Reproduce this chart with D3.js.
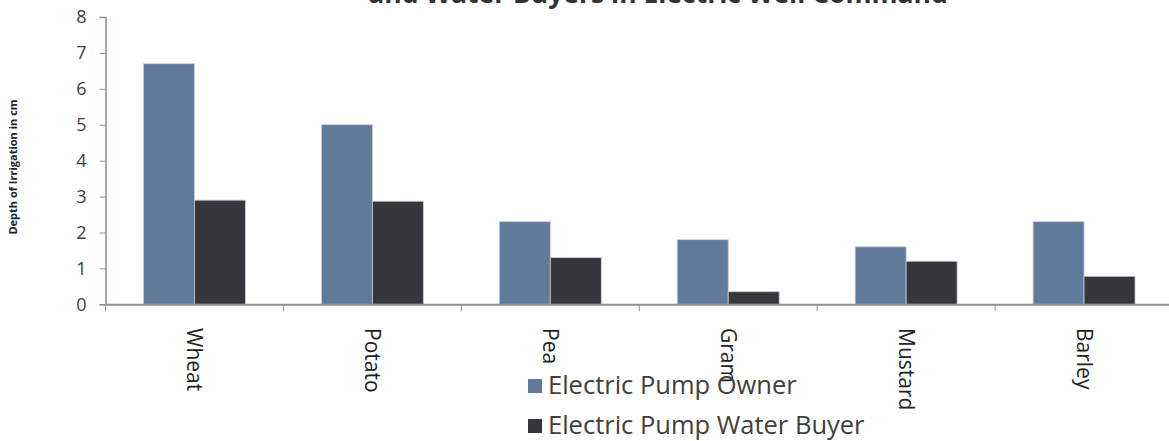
<!DOCTYPE html>
<html>
<head>
<meta charset="utf-8">
<script src="https://cdn.jsdelivr.net/npm/d3@7"></script>
<style>
  html, body { margin: 0; padding: 0; background: #fff; }
  svg { display: block; }
  text { font-family: "Open Sans", "Liberation Sans", sans-serif; }
</style>
</head>
<body>
<svg id="chart" width="1169" height="441"></svg>
<script>
const categories = ["Wheat", "Potato", "Pea", "Gram", "Mustard", "Barley"];
const seriesNames = ["Electric Pump Owner", "Electric Pump Water Buyer"];
const ownerValues = [6.7, 5.0, 2.3, 1.8, 1.6, 2.3];
const buyerValues = [2.9, 2.87, 1.3, 0.35, 1.2, 0.78];
const yTickValues = [0, 1, 2, 3, 4, 5, 6, 7, 8];
const titleText = "and Water Buyers in Electric Well Command";
const yTitle = "Depth of Irrigation in cm";

const colors = ["#607a9b", "#36363b"];
const seriesValues = [ownerValues, buyerValues];

const svg = d3.select("#chart");
const axisColor = "#9a8c8a";

const x0 = d3.scaleBand().domain(categories).range([105.5, 1173]).paddingInner(0).paddingOuter(0);
const x1 = d3.scaleBand().domain(seriesNames).range([0, x0.bandwidth()]).paddingInner(0).paddingOuter(0.745);
const y = d3.scaleLinear().domain([0, 8]).range([304.3, 17]);

// title (only its lower edge is visible in the frame)
svg.append("text")
  .attr("x", 658).attr("y", 3)
  .attr("text-anchor", "middle")
  .attr("font-size", 26.5).attr("font-weight", "bold")
  .attr("fill", "#333")
  .text(titleText);

// bars
const groups = svg.append("g").selectAll("g")
  .data(categories).join("g")
  .attr("transform", d => `translate(${x0(d)},0)`);
groups.selectAll("rect")
  .data((d, i) => seriesNames.map((s, j) => ({ s, j, v: seriesValues[j][i] })))
  .join("rect")
  .attr("x", d => x1(d.s))
  .attr("y", d => y(d.v))
  .attr("width", x1.bandwidth())
  .attr("height", d => y(0) - y(d.v))
  .attr("fill", d => colors[d.j])
  .attr("stroke", "#c9ced6").attr("stroke-width", 0.8);

// y axis
const yAxis = svg.append("g")
  .attr("transform", "translate(105.5,0)")
  .call(d3.axisLeft(y).tickValues(yTickValues).tickSize(6).tickPadding(13).tickFormat(d3.format("d")));
yAxis.select(".domain").attr("stroke", axisColor).attr("stroke-width", 1.5);
yAxis.selectAll(".tick line").attr("stroke", axisColor).attr("stroke-width", 1);
yAxis.selectAll(".tick text").attr("font-size", 18).attr("fill", "#404040")
  .attr("font-family", "\"Open Sans\", sans-serif");

// x axis line
const xAxis = svg.append("g")
  .attr("transform", `translate(0,${y(0)})`)
  .call(d3.axisBottom(x0).tickSize(0).tickFormat(""));
xAxis.select(".domain").attr("stroke", axisColor).attr("stroke-width", 2);
// boundary ticks
svg.append("g").selectAll("line")
  .data(categories).join("line")
  .attr("x1", d => x0(d)).attr("x2", d => x0(d))
  .attr("y1", y(0)).attr("y2", y(0) + 7)
  .attr("stroke", axisColor).attr("stroke-width", 1);

// category labels rotated
svg.append("g").selectAll("text")
  .data(categories).join("text")
  .attr("transform", d => `translate(${x0(d) + x0.bandwidth() / 2},328) rotate(90)`)
  .attr("dy", "0.35em")
  .attr("text-anchor", "start")
  .attr("font-size", 21)
  .attr("fill", "#222")
  .text(d => d);

// y axis title
svg.append("text")
  .attr("transform", "translate(17,167) rotate(-90)")
  .attr("text-anchor", "middle")
  .attr("font-size", 11).attr("font-weight", "bold")
  .attr("fill", "#222")
  .text(yTitle);

// legend
const legend = svg.append("g").selectAll("g")
  .data(seriesNames).join("g")
  .attr("transform", (d, i) => `translate(528,${379 + i * 40})`);
legend.append("rect")
  .attr("width", 14).attr("height", 14)
  .attr("fill", (d, i) => colors[i]);
legend.append("text")
  .attr("x", 20).attr("y", 15)
  .attr("font-size", 25.5)
  .attr("fill", "#404040")
  .text(d => d);
</script>
</body>
</html>
